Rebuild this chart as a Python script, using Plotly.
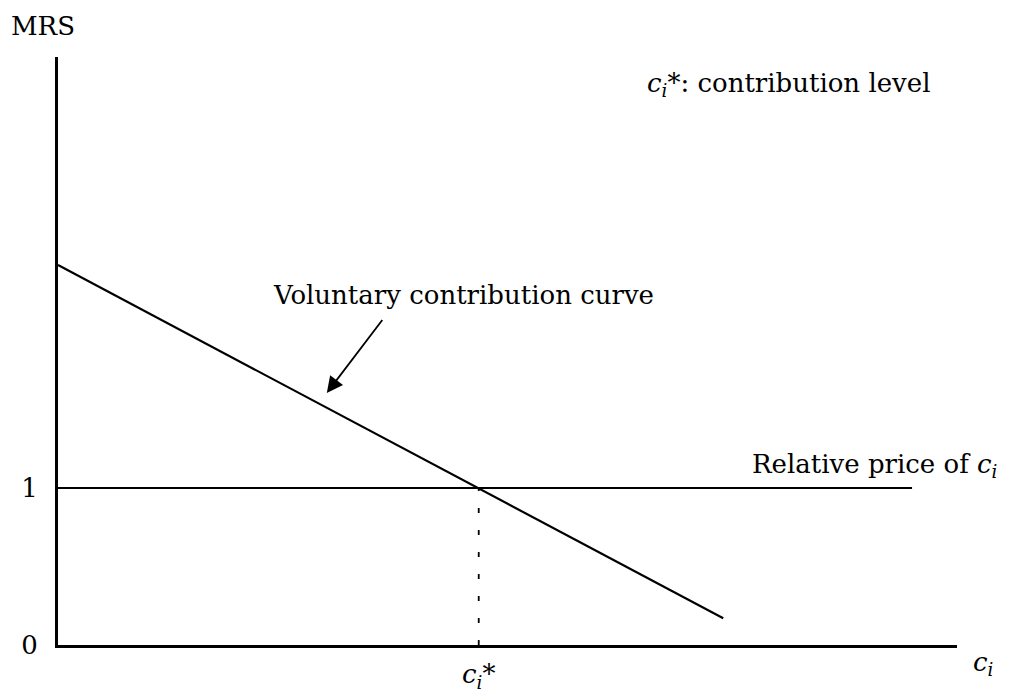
import plotly.graph_objects as go

# Data (in chart units: x = contribution c_i, y = MRS)
curve_x = [0.0, 7.40]
curve_y = [2.42, 0.17]
price_x = [0.0, 9.50]
price_y = [1.0, 1.0]
c_star = 4.68
drop_x = [c_star, c_star]
drop_y = [0.0, 1.0]
y_ticks = [0, 1]
y_tick_labels = ["0", "1"]
x_ticks = [c_star]
x_tick_labels = ["<i>c</i><sub><i>i</i></sub>*"]

FONT = "DejaVu Serif"
TF = dict(family=FONT, size=26, color="black")

# page body has an 8px margin; plot area spans screenshot px 58..957 (x) and 57..645 (y)
PW, PH = 899, 588


def px(sx):
    return (sx - 58) / PW


def py(sy):
    return (645 - sy) / PH


fig = go.Figure()
fig.add_trace(go.Scatter(x=curve_x, y=curve_y, mode="lines",
                         line=dict(color="black", width=2.2), showlegend=False))
fig.add_trace(go.Scatter(x=price_x, y=price_y, mode="lines",
                         line=dict(color="black", width=2.2), showlegend=False))
fig.add_trace(go.Scatter(x=drop_x, y=drop_y, mode="lines",
                         line=dict(color="black", width=1.8, dash="5px,17px"), showlegend=False))

fig.add_annotation(x=2.99, y=1.605, ax=3.62, ay=2.08, xref="x", yref="y", axref="x", ayref="y",
                   text="", showarrow=True, arrowhead=2, arrowsize=1.8, arrowwidth=1.8, arrowcolor="black")
fig.add_annotation(x=px(271), y=py(295), xref="paper", yref="paper", xanchor="left", yanchor="middle",
                   text="Voluntary contribution curve", showarrow=False, font=TF)
fig.add_annotation(x=px(750), y=py(466), xref="paper", yref="paper", xanchor="left", yanchor="middle",
                   text="Relative price of <i>c</i><sub><i>i</i></sub>",
                   showarrow=False, font=TF)
fig.add_annotation(x=px(645), y=py(84), xref="paper", yref="paper", xanchor="left", yanchor="middle",
                   text="<i>c</i><sub><i>i</i></sub>*: contribution level",
                   showarrow=False, font=TF)
fig.add_annotation(x=px(9), y=py(26), xref="paper", yref="paper", xanchor="left", yanchor="middle",
                   text="MRS", showarrow=False, font=dict(family=FONT, size=26, color="black"))
fig.add_annotation(x=px(983), y=py(663), xref="paper", yref="paper", xanchor="center", yanchor="middle",
                   text="<i>c</i><sub><i>i</i></sub>", showarrow=False, font=TF)

fig.update_layout(
    width=1005, height=685,
    margin=dict(l=50, r=56, t=49, b=48, autoexpand=False),
    paper_bgcolor="white", plot_bgcolor="white",
    xaxis=dict(range=[0, 10], showgrid=False, zeroline=False, showline=True, linecolor="black",
               linewidth=3, tickvals=x_ticks, ticktext=x_tick_labels, ticks="", automargin=False,
               ticklabelstandoff=4, tickfont=TF),
    yaxis=dict(range=[0, 3.745], showgrid=False, zeroline=False, showline=True, linecolor="black",
               linewidth=3, tickvals=y_ticks, ticktext=y_tick_labels, ticks="", automargin=False,
               ticklabelstandoff=12, tickfont=TF),
)
fig.write_html("out.html")
